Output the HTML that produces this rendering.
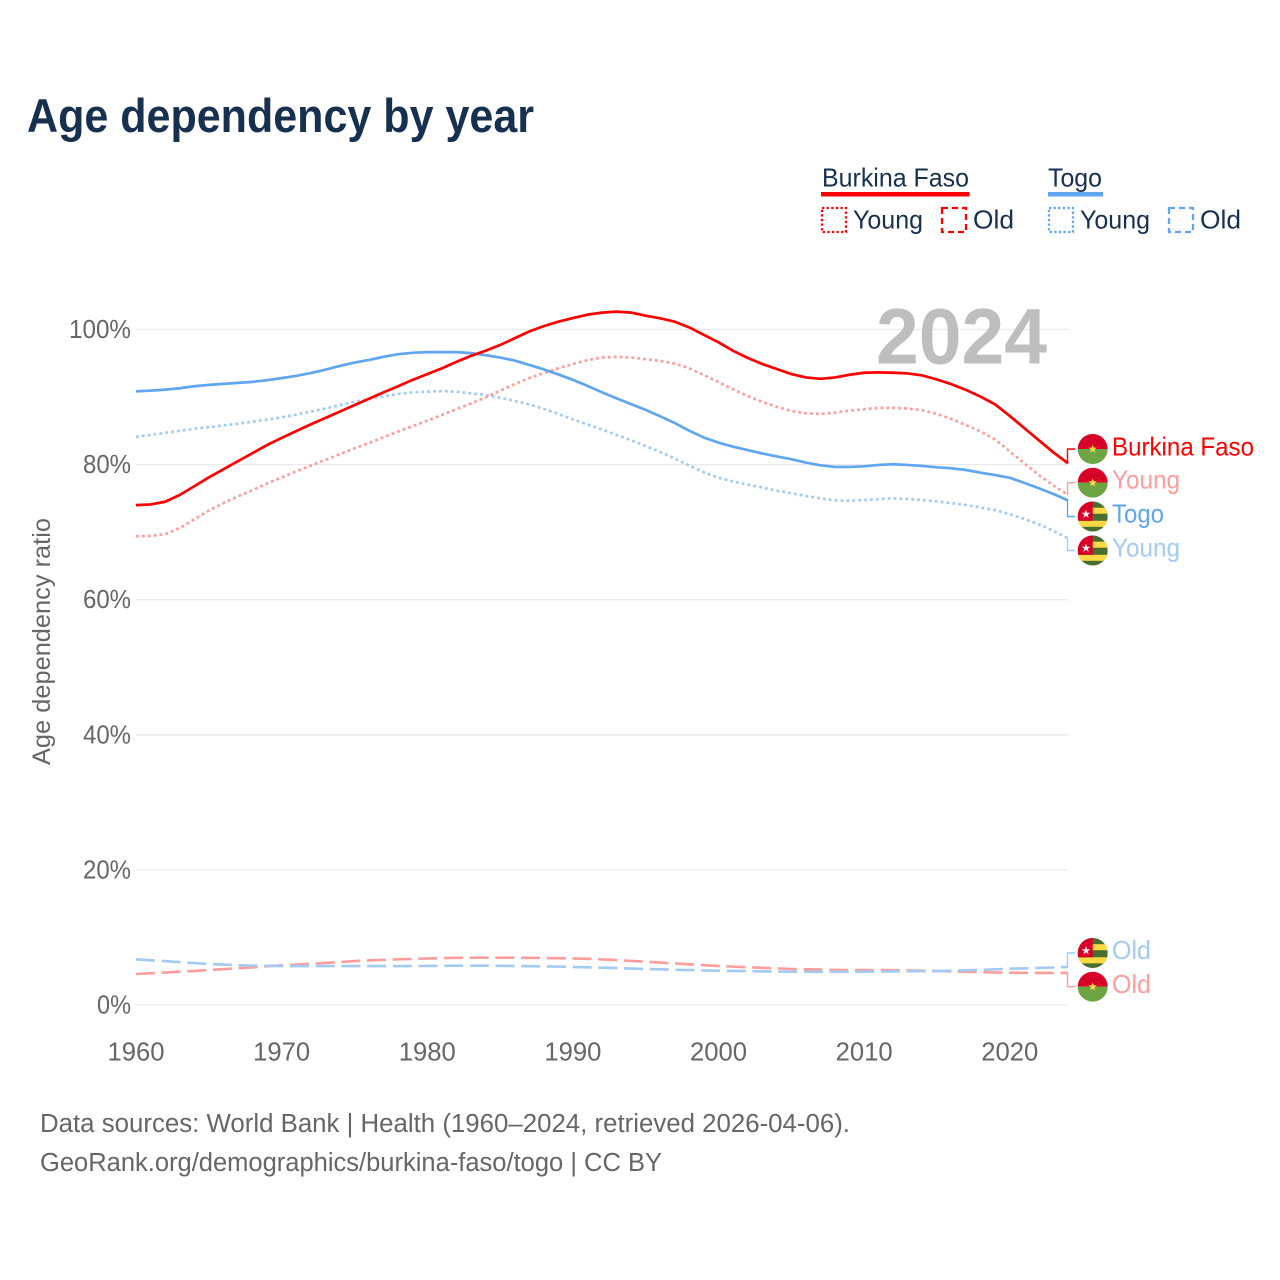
<!DOCTYPE html>
<html lang="en">
<head>
<meta charset="utf-8">
<title>Age dependency by year</title>
<style>
html,body{margin:0;padding:0;background:#fff;}
svg{display:block;font-family:"Liberation Sans",sans-serif;}
</style>
</head>
<body>
<svg id="chart" xmlns="http://www.w3.org/2000/svg" width="1280" height="1280" viewBox="0 0 1280 1280">
  <defs>
    <clipPath id="flag-clip"><circle cx="0" cy="0" r="15"/></clipPath>
    <g id="flag-bf" clip-path="url(#flag-clip)">
      <rect x="-15" y="-15" width="30" height="15" fill="#d80027"/>
      <rect x="-15" y="0" width="30" height="15" fill="#6da544"/>
      <polygon points="0,-4.5 1.1,-1.4 4.3,-1.4 1.7,0.6 2.7,3.7 0,1.8 -2.7,3.7 -1.7,0.6 -4.3,-1.4 -1.1,-1.4" fill="#ffda44"/>
    </g>
    <g id="flag-tg" clip-path="url(#flag-clip)">
      <rect x="-15" y="-15" width="30" height="30" fill="#496e2d"/>
      <rect x="-15" y="-8.800" width="30" height="6" fill="#ffda44"/>
      <rect x="-15" y="4.300" width="30" height="6" fill="#ffda44"/>
      <rect x="-15" y="-15" width="15" height="19.300" fill="#d80027"/>
      <polygon points="-6.7,-7 -5.6,-3.8 -2.3,-3.8 -5,-1.8 -4,1.4 -6.7,-0.6 -9.4,1.4 -8.4,-1.8 -11.1,-3.8 -7.8,-3.8" fill="#f0f0f0"/>
    </g>
  </defs>

  <text x="27" y="132" font-size="47" font-weight="700" fill="#17304f" textLength="507" lengthAdjust="spacingAndGlyphs">Age dependency by year</text>

  <g font-size="26" fill="#17304f">
    <text x="822" y="186.500" textLength="147" lengthAdjust="spacingAndGlyphs">Burkina Faso</text>
    <rect x="821" y="192" width="148.500" height="4.500" fill="#ff0000"/>
    <rect x="822" y="208" width="24" height="24" fill="none" stroke="#ff0000" stroke-width="2.300" stroke-dasharray="2.300 2.300"/>
    <text x="853" y="228.500" textLength="70" lengthAdjust="spacingAndGlyphs">Young</text>
    <rect x="942" y="208" width="24" height="24" fill="none" stroke="#ff0000" stroke-width="2.300" stroke-dasharray="6 4"/>
    <text x="973" y="228.500" textLength="41" lengthAdjust="spacingAndGlyphs">Old</text>
    <text x="1048" y="186.500" textLength="54" lengthAdjust="spacingAndGlyphs">Togo</text>
    <rect x="1048" y="192" width="55" height="4.500" fill="#60a5f0"/>
    <rect x="1049" y="208" width="24" height="24" fill="none" stroke="#60a5f0" stroke-width="2.300" stroke-dasharray="2.300 2.300"/>
    <text x="1080" y="228.500" textLength="70" lengthAdjust="spacingAndGlyphs">Young</text>
    <rect x="1169" y="208" width="24" height="24" fill="none" stroke="#60a5f0" stroke-width="2.300" stroke-dasharray="6 4"/>
    <text x="1200" y="228.500" textLength="41" lengthAdjust="spacingAndGlyphs">Old</text>
  </g>

  <g id="grid"></g>
  <g id="yticks"></g>
  <g id="xticks"></g>

  <text transform="translate(50,765) rotate(-90)" font-size="25" fill="#666666" textLength="247" lengthAdjust="spacingAndGlyphs">Age dependency ratio</text>

  <text x="876" y="363.500" font-size="79" font-weight="700" fill="#bebebe" textLength="171" lengthAdjust="spacingAndGlyphs">2024</text>

  <g id="series"></g>
  <g id="connectors"></g>

  <use href="#flag-bf" x="1092.700" y="449"/>
  <use href="#flag-bf" x="1092.700" y="482.700"/>
  <use href="#flag-tg" x="1092.700" y="516.500"/>
  <use href="#flag-tg" x="1092.700" y="550.500"/>
  <use href="#flag-tg" x="1092.700" y="953"/>
  <use href="#flag-bf" x="1092.700" y="986.700"/>

  <g font-size="26">
    <text x="1112" y="455.300" fill="#ff0000" textLength="142" lengthAdjust="spacingAndGlyphs">Burkina Faso</text>
    <text x="1112" y="488.500" fill="#ff9c9c" textLength="68" lengthAdjust="spacingAndGlyphs">Young</text>
    <text x="1112" y="522.500" fill="#60a5f0" textLength="52" lengthAdjust="spacingAndGlyphs">Togo</text>
    <text x="1112" y="556.300" fill="#a3caf3" textLength="68" lengthAdjust="spacingAndGlyphs">Young</text>
    <text x="1112" y="959" fill="#a3caf3" textLength="39" lengthAdjust="spacingAndGlyphs">Old</text>
    <text x="1112" y="993" fill="#ff9c9c" textLength="39" lengthAdjust="spacingAndGlyphs">Old</text>
  </g>

  <g font-size="25.500" fill="#666666">
    <text x="40" y="1132" textLength="810" lengthAdjust="spacingAndGlyphs">Data sources: World Bank | Health (1960–2024, retrieved 2026-04-06).</text>
    <text x="40" y="1171" textLength="622" lengthAdjust="spacingAndGlyphs">GeoRank.org/demographics/burkina-faso/togo | CC BY</text>
  </g>
</svg>

<script>
const firstYear = 1960;
const yTickValues = [0, 20, 40, 60, 80, 100];
const xTickValues = [1960, 1970, 1980, 1990, 2000, 2010, 2020];

const burkinaTotal = [74.0,74.1,74.5,75.5,76.8,78.1,79.3,80.5,81.7,82.9,83.95,84.95,85.95,86.9,87.85,88.8,89.75,90.7,91.6,92.55,93.4,94.25,95.2,96.1,96.85,97.7,98.7,99.7,100.5,101.15,101.7,102.2,102.5,102.65,102.5,102.05,101.65,101.15,100.3,99.2,98.1,96.85,95.8,94.9,94.15,93.4,92.9,92.7,92.9,93.3,93.6,93.65,93.6,93.5,93.2,92.6,91.9,91.05,90.05,88.9,87.2,85.4,83.6,81.8,80.2];
const burkinaYoung = [69.4,69.45,69.7,70.6,71.9,73.2,74.3,75.3,76.2,77.2,78.1,79.0,79.85,80.7,81.55,82.4,83.2,84.05,84.9,85.7,86.5,87.35,88.2,89.05,89.95,90.95,91.9,92.8,93.55,94.25,94.9,95.45,95.85,95.95,95.85,95.6,95.35,94.95,94.25,93.25,92.2,91.15,90.15,89.3,88.55,87.95,87.6,87.5,87.7,88.0,88.2,88.4,88.4,88.3,88.05,87.5,86.75,85.85,84.9,83.7,81.95,80.2,78.45,76.9,75.5];
const burkinaOld = [4.59,4.7,4.8,4.93,5.05,5.18,5.3,5.45,5.58,5.72,5.87,5.98,6.1,6.22,6.35,6.5,6.6,6.68,6.76,6.83,6.9,6.95,6.98,7.0,7.0,7.0,7.0,6.98,6.96,6.93,6.9,6.83,6.75,6.65,6.52,6.4,6.28,6.15,6.03,5.9,5.77,5.68,5.58,5.5,5.42,5.33,5.28,5.24,5.2,5.18,5.18,5.18,5.16,5.12,5.08,5.03,4.98,4.92,4.87,4.82,4.78,4.76,4.75,4.74,4.74];
const togoTotal = [90.85,90.95,91.1,91.3,91.6,91.8,91.95,92.1,92.25,92.5,92.8,93.15,93.55,94.05,94.6,95.1,95.5,95.95,96.35,96.55,96.65,96.65,96.65,96.5,96.2,95.85,95.4,94.75,94.1,93.35,92.55,91.65,90.7,89.8,88.95,88.1,87.15,86.15,85.0,84.0,83.25,82.65,82.15,81.65,81.2,80.8,80.3,79.9,79.65,79.65,79.75,79.95,80.05,79.95,79.8,79.6,79.45,79.2,78.8,78.45,78.05,77.3,76.5,75.65,74.7];
const togoYoung = [84.1,84.4,84.7,85.0,85.3,85.55,85.8,86.05,86.35,86.65,87.0,87.4,87.85,88.3,88.8,89.3,89.7,90.1,90.45,90.7,90.8,90.9,90.8,90.55,90.3,89.9,89.45,88.9,88.25,87.5,86.7,85.95,85.2,84.4,83.6,82.75,81.85,80.9,79.85,78.85,78.05,77.5,77.05,76.6,76.15,75.75,75.35,75.0,74.7,74.65,74.75,74.9,75.0,74.9,74.75,74.55,74.3,74.0,73.65,73.25,72.65,71.95,71.15,70.2,69.1];
const togoOld = [6.76,6.62,6.5,6.35,6.2,6.07,5.98,5.9,5.83,5.8,5.77,5.76,5.76,5.76,5.77,5.77,5.77,5.77,5.77,5.77,5.78,5.8,5.82,5.82,5.82,5.8,5.78,5.75,5.72,5.68,5.63,5.58,5.53,5.47,5.4,5.33,5.28,5.22,5.17,5.12,5.08,5.05,5.02,4.98,4.95,4.93,4.92,4.92,4.92,4.92,4.93,4.95,4.97,5.0,5.02,5.03,5.08,5.14,5.2,5.28,5.37,5.42,5.48,5.55,5.63];

const SVG_NS = 'http://www.w3.org/2000/svg';
function xScale(year) { return 136 + (year - 1960) * 14.5625; }
function yScale(value) { return 1005 - value * 6.755; }
function linePath(values) {
  return values.map(function (v, i) {
    return (i ? 'L' : 'M') + xScale(firstYear + i).toFixed(2) + ' ' + yScale(v).toFixed(2);
  }).join(' ');
}

const gridGroup = document.getElementById('grid');
const yGroup = document.getElementById('yticks');
yTickValues.forEach(function (v) {
  const line = document.createElementNS(SVG_NS, 'line');
  
  
  line.setAttribute('x1', 136);
  line.setAttribute('x2', 1068);
  line.setAttribute('y1', yScale(v));
  line.setAttribute('y2', yScale(v));
  line.setAttribute('stroke', '#e9e9e9');
  line.setAttribute('stroke-width', '1.3');
  gridGroup.appendChild(line);
  const label = document.createElementNS(SVG_NS, 'text');
  
  
  label.setAttribute('x', 131);
  label.setAttribute('y', yScale(v) + 8.5);
  label.setAttribute('text-anchor', 'end');
  label.setAttribute('font-size', '25.5');
  label.setAttribute('fill', '#666666');
  label.setAttribute('textLength', String(v).length === 3 ? 62 : (String(v).length === 2 ? 48 : 34));
  label.setAttribute('lengthAdjust', 'spacingAndGlyphs');
  label.textContent = v + '%';
  yGroup.appendChild(label);
});

const xGroup = document.getElementById('xticks');
xTickValues.forEach(function (year) {
  const label = document.createElementNS(SVG_NS, 'text');
  
  
  label.setAttribute('x', xScale(year));
  label.setAttribute('y', 1060.5);
  label.setAttribute('text-anchor', 'middle');
  label.setAttribute('font-size', '25.5');
  label.setAttribute('fill', '#666666');
  label.setAttribute('textLength', 57);
  label.setAttribute('lengthAdjust', 'spacingAndGlyphs');
  label.textContent = year;
  xGroup.appendChild(label);
});

const seriesGroup = document.getElementById('series');
function addSeries(name, values, color, width, dash) {
  const path = document.createElementNS(SVG_NS, 'path');
  
  
  path.setAttribute('d', linePath(values));
  path.setAttribute('fill', 'none');
  path.setAttribute('stroke', color);
  path.setAttribute('stroke-width', width);
  path.setAttribute('stroke-linejoin', 'round');
  if (dash) path.setAttribute('stroke-dasharray', dash);
  seriesGroup.appendChild(path);
}
addSeries('line-burkina-old', burkinaOld, '#ff9c9c', 2.6, '19 6.7');
addSeries('line-togo-old', togoOld, '#a3caf3', 2.6, '19 6.7');
addSeries('line-togo-young', togoYoung, '#a3caf3', 2.7, '2.8 3.1');
addSeries('line-burkina-young', burkinaYoung, '#ff9c9c', 2.7, '2.8 3.1');
addSeries('line-togo-total', togoTotal, '#60a5f0', 2.7, '');
addSeries('line-burkina-total', burkinaTotal, '#ff0000', 2.7, '');

const connectorGroup = document.getElementById('connectors');
function addConnector(name, values, labelY, color) {
  const path = document.createElementNS(SVG_NS, 'path');
  
  
  const endValue = values[values.length - 1];
  path.setAttribute('d', 'M1067.500 ' + yScale(endValue).toFixed(2) + ' V' + labelY + ' H1075');
  path.setAttribute('fill', 'none');
  path.setAttribute('stroke', color);
  path.setAttribute('stroke-width', '1.4');
  connectorGroup.appendChild(path);
}
addConnector('connector-burkina-total', burkinaTotal, 449, '#ff0000');
addConnector('connector-burkina-young', burkinaYoung, 482.7, '#ff9c9c');
addConnector('connector-togo-total', togoTotal, 516.5, '#60a5f0');
addConnector('connector-togo-young', togoYoung, 550.5, '#a3caf3');
addConnector('connector-togo-old', togoOld, 953, '#a3caf3');
addConnector('connector-burkina-old', burkinaOld, 986.7, '#ff9c9c');
</script>
</body>
</html>
